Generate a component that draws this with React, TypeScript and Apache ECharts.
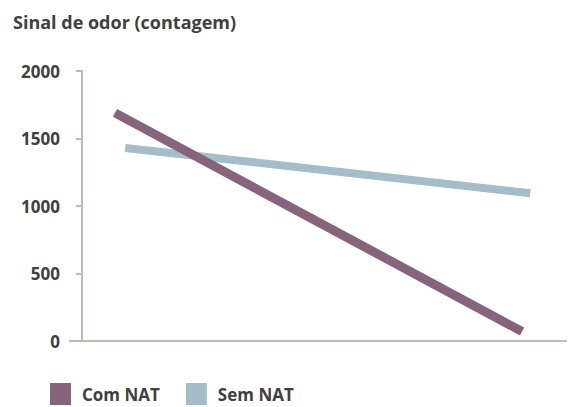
import React, { useEffect, useRef } from "react";
import * as echarts from "echarts";

const title = "Sinal de odor (contagem)";
const seriesNames = ["Com NAT", "Sem NAT"];
const comNAT: [number, number][] = [
  [1, 1690],
  [2, 70],
];
const semNAT: [number, number][] = [
  [1.025, 1430],
  [2.02, 1095],
];
const yTicks = { min: 0, max: 2000, interval: 500 };
const colors = ["#86647C", "#A5BCC9"];

export default function App() {
  const ref = useRef<HTMLDivElement>(null);
  useEffect(() => {
    if (!ref.current) return;
    const chart = echarts.init(ref.current, undefined, { renderer: "svg" });
    const font = "Open Sans";
    chart.setOption({
      animation: false,
      title: {
        text: title,
        left: 0,
        top: 0,
        textStyle: { fontFamily: font, fontWeight: "bold", fontSize: 18, color: "#404040" },
      },
      legend: {
        left: 37,
        top: 370,
        itemWidth: 21,
        itemHeight: 22,
        itemGap: 26,
        icon: "rect",
        data: seriesNames,
        textStyle: { fontFamily: font, fontWeight: "bold", fontSize: 17, color: "#404040", padding: [0, 0, 0, 6] },
      },
      grid: { left: 74, right: -8, top: 63, bottom: 66, containLabel: false },
      xAxis: {
        type: "value",
        min: 0.919,
        max: 2.13,
        axisLine: { show: false },
        axisTick: { show: false },
        axisLabel: { show: false },
        splitLine: { show: false },
      },
      yAxis: {
        type: "value",
        min: yTicks.min,
        max: yTicks.max,
        interval: yTicks.interval,
        axisLine: { show: true, lineStyle: { color: "#C4B8B0", width: 2 } },
        axisTick: { show: true, length: 6, lineStyle: { color: "#C4B8B0", width: 2 } },
        axisLabel: {
          margin: 22,
          fontFamily: font,
          fontWeight: "bold",
          fontSize: 17,
          color: "#404040",
          formatter: (v: number) => String(v),
        },
        splitLine: { show: false },
      },
      series: [
        {
          name: seriesNames[0],
          type: "line",
          data: comNAT,
          symbol: "none",
          lineStyle: { width: 9, color: colors[0], cap: "butt" },
          itemStyle: { color: colors[0] },
          z: 3,
        },
        {
          name: seriesNames[1],
          type: "line",
          data: semNAT,
          symbol: "none",
          lineStyle: { width: 8, color: colors[1], cap: "butt" },
          itemStyle: { color: colors[1] },
          z: 2,
        },
      ],
      graphic: [
        {
          type: "line",
          shape: { x1: 61, y1: 333, x2: 600, y2: 333 },
          style: { stroke: "#C4B8B0", lineWidth: 2 },
          z: 1,
        },
      ],
    });
    return () => chart.dispose();
  }, []);
  return <div ref={ref} style={{ width: 567, height: 399 }} />;
}
